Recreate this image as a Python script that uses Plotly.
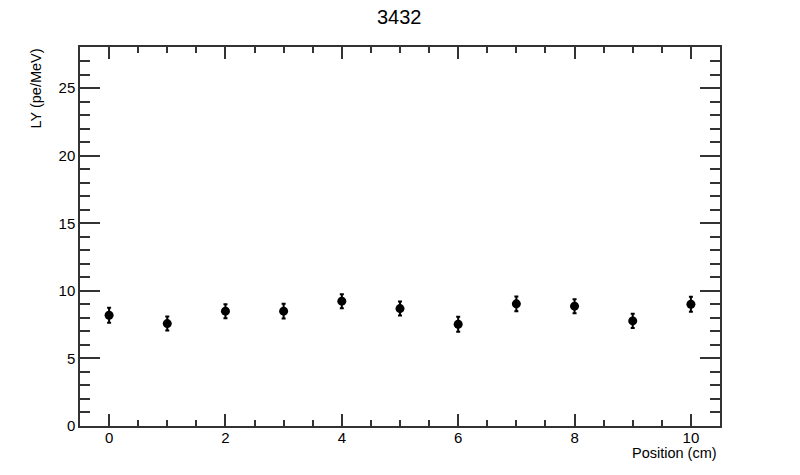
import plotly.graph_objects as go

positions = [0, 1, 2, 3, 4, 5, 6, 7, 8, 9, 10]
ly_values = [8.2, 7.58, 8.5, 8.5, 9.24, 8.69, 7.53, 9.04, 8.87, 7.78, 9.01]
ly_errors = [0.55, 0.52, 0.52, 0.55, 0.52, 0.52, 0.55, 0.55, 0.52, 0.52, 0.55]

fig = go.Figure()
fig.add_trace(go.Scatter(
    x=positions, y=ly_values, mode="markers",
    marker=dict(color="black", size=9, symbol="circle"),
    error_y=dict(type="data", array=ly_errors, color="black", thickness=2, width=2),
    showlegend=False,
))

font = "Liberation Sans, Arial, sans-serif"
axis_common = dict(
    showgrid=False, zeroline=False, showline=True, linecolor="#333", linewidth=1.5,
    mirror="allticks", ticks="inside", tickcolor="#333", tickwidth=1.5,
    tickfont=dict(family=font, size=15, color="black"),
)
# page has an 8px body margin; plot area target in page px: x 80..720, y 47..426
fig.update_layout(
    width=792, height=467,
    paper_bgcolor="white", plot_bgcolor="white",
    margin=dict(l=72, r=80, t=39, b=49),
    xaxis=dict(range=[-0.5, 10.5], tickvals=[0, 2, 4, 6, 8, 10], ticklen=12,
               minor=dict(dtick=0.5, ticks="inside", ticklen=6, tickcolor="#333", tickwidth=1.5),
               ticklabelstandoff=-3,
               **axis_common),
    yaxis=dict(range=[0, 28.05], tickvals=[0, 5, 10, 15, 20, 25], ticklen=20,
               minor=dict(dtick=1, ticks="inside", ticklen=10, tickcolor="#333", tickwidth=1.5),
               ticklabelstandoff=0,
               **axis_common),
)

PX0, PX1, PY0, PY1 = 80, 720, 47, 426


def px(x):
    return (x - PX0) / (PX1 - PX0)


def py(y):
    return (PY1 - y) / (PY1 - PY0)


fig.add_annotation(text="3432", xref="paper", yref="paper", x=px(399), y=py(17),
                   yanchor="middle", showarrow=False, font=dict(family=font, size=20, color="black"))
fig.add_annotation(text="Position (cm)", xref="paper", yref="paper", x=px(719), y=py(453),
                   xanchor="right", yanchor="middle", showarrow=False,
                   font=dict(family=font, size=14.5, color="black"))
fig.add_annotation(text="LY (pe/MeV)", xref="paper", yref="paper", x=px(35.5), y=py(47),
                   xanchor="center", yanchor="top", textangle=-90, showarrow=False,
                   font=dict(family=font, size=14.5, color="black"))

fig.write_html("out.html")
